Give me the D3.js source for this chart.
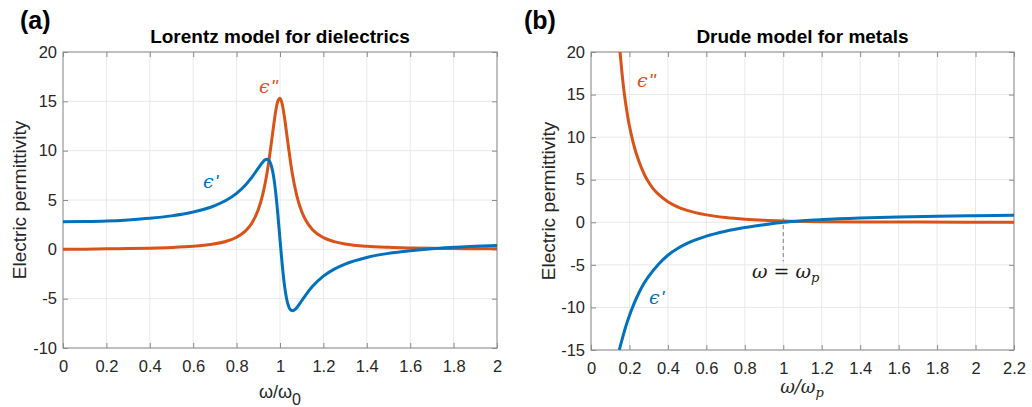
<!DOCTYPE html>
<html>
<head>
<meta charset="utf-8">
<script src="https://cdn.jsdelivr.net/npm/d3@7"></script>
<style>
  html, body { margin: 0; padding: 0; background: #fff; }
  svg { display: block; }
  .tick text { font-family: "Liberation Sans", Arial, sans-serif; font-size: 16.5px; fill: #262626; }
</style>
</head>
<body>
<svg id="fig" width="1032" height="407"></svg>
<script>
// ---- Lorentz oscillator (dielectric) ----
const lorentzOmega = [0, 0.1, 0.2, 0.3, 0.4, 0.5, 0.6, 0.65, 0.7, 0.75, 0.8, 0.84, 0.87, 0.9, 0.92, 0.93, 0.94, 0.95, 0.96, 0.97, 0.98, 0.99, 1.0, 1.01, 1.02, 1.03, 1.04, 1.05, 1.06, 1.07, 1.08, 1.1, 1.12, 1.15, 1.2, 1.25, 1.3, 1.4, 1.5, 1.6, 1.7, 1.8, 1.9, 2.0];
const lorentzEpsReal = [2.80, 2.82, 2.87, 2.98, 3.14, 3.39, 3.78, 4.06, 4.44, 4.95, 5.68, 6.50, 7.29, 8.23, 8.83, 9.05, 9.13, 8.98, 8.47, 7.45, 5.80, 3.57, 1.00, -1.49, -3.54, -4.96, -5.80, -6.16, -6.22, -6.08, -5.84, -5.21, -4.58, -3.75, -2.71, -2.00, -1.49, -0.82, -0.41, -0.14, 0.06, 0.20, 0.32, 0.40];
const lorentzEpsImag = [0, 0.02, 0.05, 0.08, 0.12, 0.19, 0.31, 0.41, 0.56, 0.80, 1.22, 1.84, 2.65, 4.03, 5.52, 6.52, 7.72, 9.15, 10.76, 12.44, 13.97, 15.02, 15.31, 14.73, 13.48, 11.86, 10.19, 8.63, 7.28, 6.15, 5.22, 3.83, 2.89, 1.99, 1.19, 0.78, 0.55, 0.31, 0.20, 0.14, 0.10, 0.08, 0.06, 0.05];

// ---- Drude model (metal) ----
const drudeOmegaReal = [0.147, 0.16, 0.18, 0.2, 0.225, 0.25, 0.275, 0.3, 0.35, 0.4, 0.45, 0.5, 0.6, 0.7, 0.8, 0.9, 1.0, 1.1, 1.2, 1.4, 1.6, 1.8, 2.0, 2.2];
const drudeEpsReal = [-15, -13.9, -12.3, -10.95, -9.5, -8.25, -7.2, -6.35, -4.95, -3.87, -3.08, -2.48, -1.63, -1.05, -0.62, -0.28, 0.0, 0.19, 0.32, 0.5, 0.62, 0.71, 0.77, 0.82];
const drudeOmegaImag = [0.151, 0.16, 0.17, 0.18, 0.19, 0.2, 0.22, 0.25, 0.28, 0.3, 0.325, 0.35, 0.4, 0.45, 0.5, 0.6, 0.7, 0.8, 0.9, 1.0, 1.2, 1.4, 1.7, 2.2];
const drudeEpsImag = [20, 17.8, 15.7, 14.0, 12.55, 11.3, 9.3, 7.1, 5.5, 4.7, 3.9, 3.3, 2.42, 1.82, 1.4, 0.87, 0.56, 0.36, 0.23, 0.15, 0.07, 0.04, 0.02, 0.01];

// ---- Axis ticks ----
const ticksXa = [0, 0.2, 0.4, 0.6, 0.8, 1, 1.2, 1.4, 1.6, 1.8, 2];
const ticksYa = [-10, -5, 0, 5, 10, 15, 20];
const ticksXb = [0, 0.2, 0.4, 0.6, 0.8, 1, 1.2, 1.4, 1.6, 1.8, 2, 2.2];
const ticksYb = [-15, -10, -5, 0, 5, 10, 15, 20];

const BLUE = "#0072BD", ORANGE = "#D95319";
const SANS = '"Liberation Sans", Arial, sans-serif';
const SERIF = '"DejaVu Serif", "Liberation Serif", serif';

const svg = d3.select("#fig");

function panel(cfg) {
  const { left, right, top, bottom, xDomain, yDomain, xt, yt, id } = cfg;
  const x = d3.scaleLinear().domain(xDomain).range([left, right]);
  const y = d3.scaleLinear().domain(yDomain).range([bottom, top]);
  const g = svg.append("g");

  // grid
  g.append("g").selectAll("line").data(xt).join("line")
    .attr("x1", d => x(d)).attr("x2", d => x(d)).attr("y1", top).attr("y2", bottom)
    .attr("stroke", "#e8e8e8").attr("stroke-width", 1);
  g.append("g").selectAll("line").data(yt).join("line")
    .attr("y1", d => y(d)).attr("y2", d => y(d)).attr("x1", left).attr("x2", right)
    .attr("stroke", "#e8e8e8").attr("stroke-width", 1);

  const fmt = d => String(+d.toFixed(1));
  const styleAxis = sel => {
    sel.select(".domain").remove();
    sel.selectAll(".tick line").attr("stroke", "#8c8c8c");
  };
  g.append("g").attr("transform", `translate(0,${bottom})`)
    .call(d3.axisBottom(x).tickValues(xt).tickFormat(fmt).tickSizeInner(-5).tickSizeOuter(0).tickPadding(12))
    .call(styleAxis);
  g.append("g").attr("transform", `translate(0,${top})`)
    .call(d3.axisTop(x).tickValues(xt).tickFormat("").tickSizeInner(-5).tickSizeOuter(0))
    .call(styleAxis);
  g.append("g").attr("transform", `translate(${left},0)`)
    .call(d3.axisLeft(y).tickValues(yt).tickFormat(fmt).tickSizeInner(-5).tickSizeOuter(0).tickPadding(6))
    .call(styleAxis);
  g.append("g").attr("transform", `translate(${right},0)`)
    .call(d3.axisRight(y).tickValues(yt).tickFormat("").tickSizeInner(-5).tickSizeOuter(0))
    .call(styleAxis);

  g.append("rect").attr("x", left).attr("y", top).attr("width", right - left).attr("height", bottom - top)
    .attr("fill", "none").attr("stroke", "#8c8c8c").attr("stroke-width", 1);

  svg.append("clipPath").attr("id", id).append("rect")
    .attr("x", left).attr("y", top).attr("width", right - left).attr("height", bottom - top);

  return { x, y, g, clip: id };
}

function curve(p, xs, ys, color) {
  const pts = xs.map((d, i) => [d, ys[i]]);
  p.g.append("path").datum(pts)
    .attr("clip-path", `url(#${p.clip})`)
    .attr("fill", "none").attr("stroke", color).attr("stroke-width", 3)
    .attr("stroke-linejoin", "round").attr("stroke-linecap", "butt")
    .attr("d", d3.line().x(d => p.x(d[0])).y(d => p.y(d[1])).curve(d3.curveMonotoneX));
}

// ---------- Panel (a): Lorentz ----------
const pa = panel({ left: 63, right: 497, top: 52, bottom: 348, xDomain: [0, 2], yDomain: [-10, 20], xt: ticksXa, yt: ticksYa, id: "clipA" });
curve(pa, lorentzOmega, lorentzEpsImag, ORANGE);
curve(pa, lorentzOmega, lorentzEpsReal, BLUE);

// ---------- Panel (b): Drude ----------
const pb = panel({ left: 591, right: 1014, top: 52, bottom: 350, xDomain: [0, 2.2], yDomain: [-15, 20], xt: ticksXb, yt: ticksYb, id: "clipB" });
// marker at the plasma frequency
pb.g.append("line")
  .attr("x1", pb.x(1)).attr("x2", pb.x(1)).attr("y1", pb.y(0.5)).attr("y2", pb.y(-4.6))
  .attr("stroke", "#7f7f7f").attr("stroke-width", 1).attr("stroke-dasharray", "4,3");
curve(pb, drudeOmegaImag, drudeEpsImag, ORANGE);
curve(pb, drudeOmegaReal, drudeEpsReal, BLUE);

// ---------- Text ----------
function txt(x, y, s, opts = {}) {
  return svg.append("text").attr("x", x).attr("y", y)
    .attr("font-family", opts.family || SANS).attr("font-size", opts.size || 15)
    .attr("font-weight", opts.weight || "normal").attr("font-style", opts.style || "normal")
    .attr("fill", opts.fill || "#262626").attr("text-anchor", opts.anchor || "middle").text(s);
}

// panel letters
txt(20, 29, "(a)", { size: 25, weight: "bold", anchor: "start", fill: "#000" });
txt(524, 29, "(b)", { size: 25, weight: "bold", anchor: "start", fill: "#000" });

// titles
txt(280, 43, "Lorentz model for dielectrics", { size: 19, weight: "bold", fill: "#000" });
txt(802.5, 43, "Drude model for metals", { size: 19, weight: "bold", fill: "#000" });

// y labels
svg.append("text").attr("transform", "translate(26,200) rotate(-90)")
  .attr("font-family", SANS).attr("font-size", 19).attr("fill", "#262626")
  .attr("text-anchor", "middle").text("Electric permittivity");
svg.append("text").attr("transform", "translate(555,201) rotate(-90)")
  .attr("font-family", SANS).attr("font-size", 19).attr("fill", "#262626")
  .attr("text-anchor", "middle").text("Electric permittivity");

// x label (a)
const xla = svg.append("text").attr("x", 280).attr("y", 398)
  .attr("font-family", SANS).attr("font-size", 18).attr("fill", "#262626").attr("text-anchor", "middle");
xla.append("tspan").text("ω/ω");
xla.append("tspan").attr("dy", 7).attr("font-size", 16).text("0");

// x label (b)
const xlb = svg.append("text").attr("x", 802).attr("y", 393)
  .attr("font-family", SERIF).attr("font-size", 18).attr("font-style", "italic")
  .attr("fill", "#262626").attr("text-anchor", "middle");
xlb.append("tspan").text("ω/ω");
xlb.append("tspan").attr("dy", 4).attr("font-size", 13).text("p");

// curve labels: epsilon with prime marks
function epsLabel(x, y, primes, color) {
  const t = svg.append("text").attr("x", x).attr("y", y)
    .attr("font-size", 19).attr("fill", color).attr("text-anchor", "start");
  t.append("tspan").attr("font-family", SERIF).attr("font-style", "italic").text("ϵ");
  t.append("tspan").attr("font-family", SANS).attr("font-style", "italic")
    .attr("dx", 1).attr("font-size", 19).text(primes);
}
epsLabel(259, 93, "''", ORANGE);
epsLabel(203, 188, "'", BLUE);
epsLabel(637, 87, "''", ORANGE);
epsLabel(649, 304, "'", BLUE);

// plasma frequency annotation
const wp = svg.append("text").attr("x", 752).attr("y", 278)
  .attr("font-family", SERIF).attr("font-size", 19).attr("fill", "#1a1a1a").attr("text-anchor", "start");
wp.append("tspan").attr("font-style", "italic").text("ω");
wp.append("tspan").text(" = ");
wp.append("tspan").attr("font-style", "italic").text("ω");
wp.append("tspan").attr("font-style", "italic").attr("font-size", 13).attr("dy", 4).text("p");
</script>
</body>
</html>
